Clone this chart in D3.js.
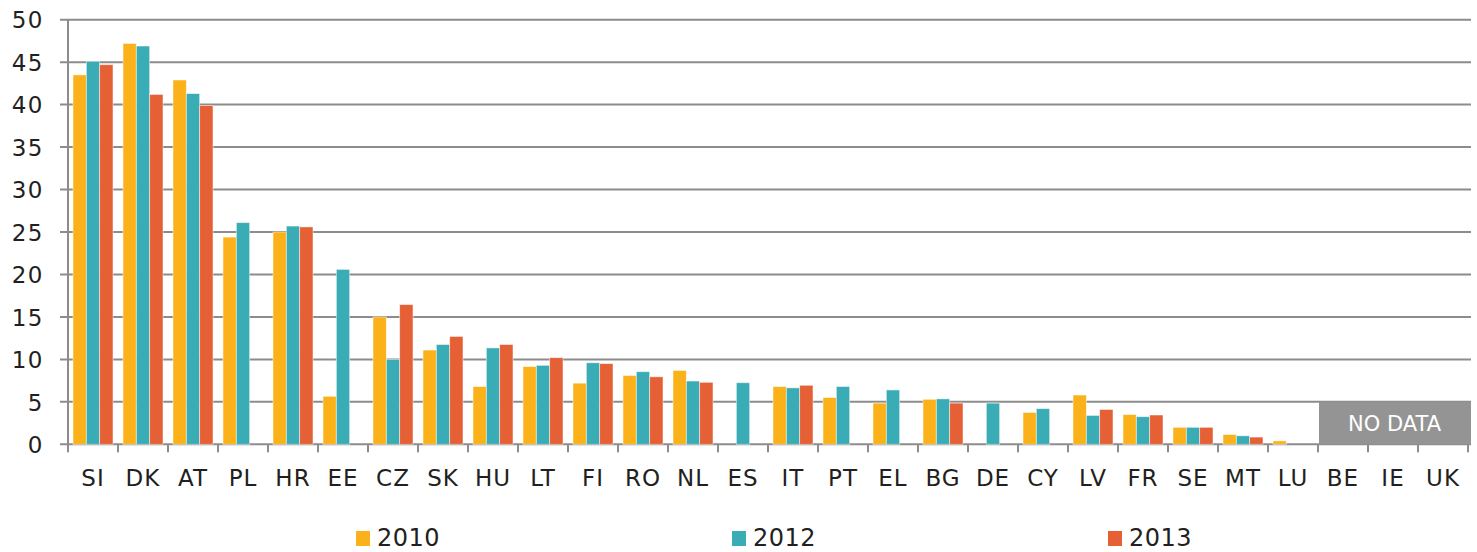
<!DOCTYPE html>
<html>
<head>
<meta charset="utf-8">
<script src="https://cdn.jsdelivr.net/npm/d3@7"></script>
<style>
  body { margin: 0; background: #fff; }
  text { font-family: "DejaVu Sans", sans-serif; fill: #231f20; }
</style>
</head>
<body>
<div id="chart"></div>
<script>
// --- Data ---
const countries = ["SI","DK","AT","PL","HR","EE","CZ","SK","HU","LT","FI","RO","NL","ES","IT","PT","EL","BG","DE","CY","LV","FR","SE","MT","LU","BE","IE","UK"];
const years = ["2010", "2012", "2013"];
const values2010 = [43.5, 47.2, 42.9, 24.4, 25.0, 5.65, 15.0, 11.1, 6.8, 9.15, 7.2, 8.1, 8.7, null, 6.8, 5.5, 4.85, 5.3, null, 3.75, 5.8, 3.5, 2.0, 1.15, 0.4, null, null, null];
const values2012 = [45.1, 46.9, 41.3, 26.1, 25.7, 20.6, 10.0, 11.75, 11.35, 9.3, 9.6, 8.55, 7.45, 7.25, 6.65, 6.8, 6.4, 5.35, 4.85, 4.2, 3.4, 3.25, 2.0, 1.0, null, null, null, null];
const values2013 = [44.7, 41.2, 39.9, null, 25.6, null, 16.45, 12.7, 11.75, 10.2, 9.5, 7.95, 7.3, null, 6.95, null, null, 4.85, null, null, 4.1, 3.45, 2.0, 0.85, null, null, null, null];
const yTicks = [0, 5, 10, 15, 20, 25, 30, 35, 40, 45, 50];
const noDataCountries = ["BE", "IE", "UK"];
const colors = ["#fbb21a", "#3aacb6", "#e66036"];

const seriesValues = [values2010, values2012, values2013];

// --- Layout ---
const W = 1477, H = 552;
const margin = { top: 19.7, left: 68, right: 9, bottom: 107.7 };
const width = 1400;
const height = H - margin.top - margin.bottom;

const svg = d3.select("#chart").append("svg")
    .attr("width", W)
    .attr("height", H);

const g = svg.append("g")
    .attr("transform", `translate(${margin.left},${margin.top})`);

const x0 = d3.scaleBand().domain(countries).range([0, width]).padding(0);
const x1 = d3.scaleBand().domain(years).range([0, x0.bandwidth()]).paddingInner(0).paddingOuter(0.375);
const y = d3.scaleLinear().domain([0, 50]).range([height, 0]);
const color = d3.scaleOrdinal().domain(years).range(colors);

// gridlines
g.append("g")
    .selectAll("line")
    .data(yTicks)
    .enter().append("line")
    .attr("x1", -8)
    .attr("x2", width + 3)
    .attr("y1", d => y(d))
    .attr("y2", d => y(d))
    .attr("stroke", "#8c8c8c")
    .attr("stroke-width", 2);

// y axis labels
const yAxis = g.append("g")
    .call(d3.axisLeft(y).tickValues(yTicks).tickSize(0).tickPadding(24));
yAxis.select(".domain").remove();
yAxis.selectAll("text")
    .style("font-size", "23px")
    .style("letter-spacing", "1.5px")
    .attr("dy", "0.36em")
    .attr("fill", "#231f20");

// bars
const barData = [];
countries.forEach((c, i) => {
    years.forEach((yr, j) => {
        const v = seriesValues[j][i];
        if (v != null) barData.push({ country: c, year: yr, value: v });
    });
});

g.append("g")
    .selectAll("rect")
    .data(barData)
    .enter().append("rect")
    .attr("x", d => x0(d.country) + x1(d.year))
    .attr("y", d => y(d.value))
    .attr("width", x1.bandwidth())
    .attr("height", d => y(0) - y(d.value))
    .attr("fill", d => color(d.year))
    .attr("stroke", "#fff")
    .attr("stroke-opacity", 0.6)
    .attr("stroke-width", 0.8);

// no data box
const ndX = x0(noDataCountries[0]);
const ndW = x0(noDataCountries[noDataCountries.length - 1]) + x0.bandwidth() - ndX + 3;
g.append("rect")
    .attr("x", ndX + 1)
    .attr("y", y(5))
    .attr("width", ndW - 1)
    .attr("height", y(0) - y(5))
    .attr("fill", "#949494");
g.append("text")
    .attr("x", ndX + ndW / 2)
    .attr("y", (y(5) + y(0)) / 2)
    .attr("dy", "0.36em")
    .attr("text-anchor", "middle")
    .style("font-size", "21px")
    .style("fill", "#fff")
    .text("NO DATA");

// y axis line
g.append("line")
    .attr("x1", 0).attr("x2", 0)
    .attr("y1", 0).attr("y2", height + 8)
    .attr("stroke", "#8c8c8c")
    .attr("stroke-width", 2);

// x axis
const xAxis = g.append("g")
    .attr("transform", `translate(0,${height})`)
    .call(d3.axisBottom(x0).tickSize(0).tickPadding(25));
xAxis.select(".domain").remove();
xAxis.selectAll("text")
    .style("font-size", "23px")
    .style("letter-spacing", "1px")
    .attr("fill", "#231f20");

// category boundary ticks
g.append("g")
    .selectAll("line")
    .data(countries)
    .enter().append("line")
    .attr("x1", d => x0(d) + x0.bandwidth())
    .attr("x2", d => x0(d) + x0.bandwidth())
    .attr("y1", height)
    .attr("y2", height + 8)
    .attr("stroke", "#8c8c8c")
    .attr("stroke-width", 2);

// legend
const legendX = [356, 732, 1108];
const legend = svg.append("g")
    .selectAll("g")
    .data(years)
    .enter().append("g")
    .attr("transform", (d, i) => `translate(${legendX[i]},531)`);

legend.append("rect")
    .attr("width", 14)
    .attr("height", 15)
    .attr("fill", d => color(d));

legend.append("text")
    .attr("x", 21)
    .attr("y", 15)
    .style("font-size", "24px")
    .style("letter-spacing", "0.5px")
    .text(d => d);
</script>
</body>
</html>
